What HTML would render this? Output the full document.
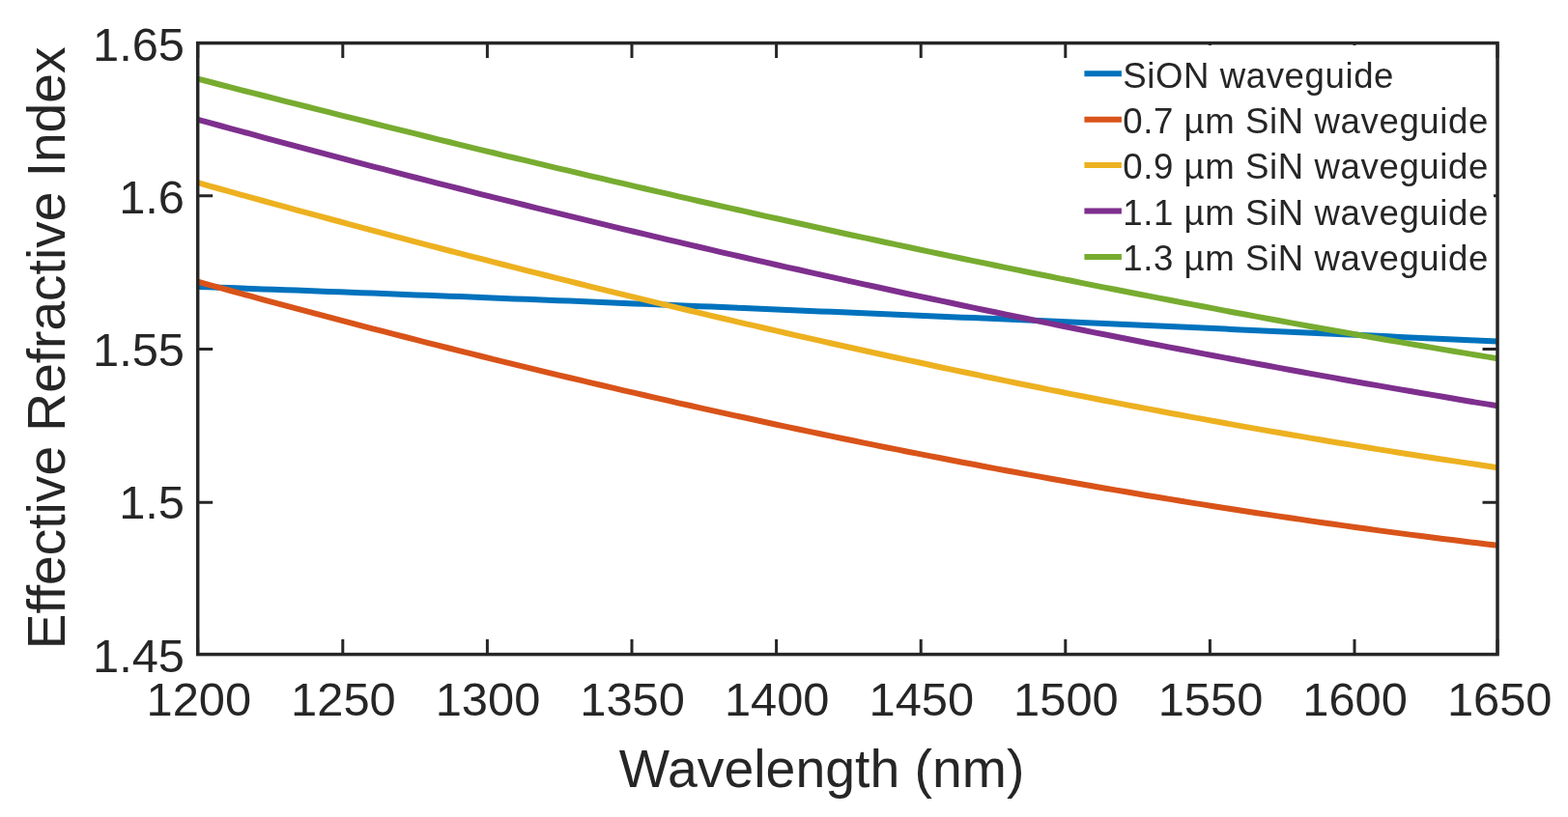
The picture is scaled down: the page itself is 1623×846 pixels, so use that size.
<!DOCTYPE html>
<html><head><meta charset="utf-8"><title>Effective Refractive Index</title>
<style>html,body{margin:0;padding:0;background:#fff;overflow:hidden}svg{display:block}</style>
</head><body>
<svg width="1623" height="846" viewBox="0 0 1623 846">
<rect width="1623" height="846" fill="#fff"/>
<path d="M204.7,296.9 L216.0,297.3 L227.3,297.7 L238.6,298.1 L249.9,298.5 L261.2,298.9 L272.5,299.4 L283.8,299.8 L295.1,300.2 L306.4,300.6 L317.8,301.1 L329.1,301.5 L340.4,301.9 L351.7,302.3 L363.0,302.8 L374.3,303.2 L385.6,303.6 L396.9,304.1 L408.2,304.5 L419.5,304.9 L430.8,305.4 L442.1,305.8 L453.4,306.3 L464.7,306.7 L476.0,307.1 L487.3,307.6 L498.6,308.0 L509.9,308.5 L521.2,308.9 L532.5,309.4 L543.9,309.8 L555.2,310.3 L566.5,310.7 L577.8,311.2 L589.1,311.6 L600.4,312.1 L611.7,312.5 L623.0,313.0 L634.3,313.5 L645.6,313.9 L656.9,314.4 L668.2,314.8 L679.5,315.3 L690.8,315.8 L702.1,316.2 L713.4,316.7 L724.7,317.2 L736.0,317.6 L747.3,318.1 L758.6,318.6 L770.0,319.0 L781.3,319.5 L792.6,320.0 L803.9,320.5 L815.2,320.9 L826.5,321.4 L837.8,321.9 L849.1,322.4 L860.4,322.8 L871.7,323.3 L883.0,323.8 L894.3,324.3 L905.6,324.8 L916.9,325.3 L928.2,325.7 L939.5,326.2 L950.8,326.7 L962.1,327.2 L973.4,327.7 L984.7,328.2 L996.1,328.7 L1007.4,329.1 L1018.7,329.6 L1030.0,330.1 L1041.3,330.6 L1052.6,331.1 L1063.9,331.6 L1075.2,332.1 L1086.5,332.6 L1097.8,333.1 L1109.1,333.6 L1120.4,334.1 L1131.7,334.6 L1143.0,335.1 L1154.3,335.6 L1165.6,336.1 L1176.9,336.6 L1188.2,337.1 L1199.5,337.6 L1210.8,338.1 L1222.2,338.6 L1233.5,339.1 L1244.8,339.6 L1256.1,340.1 L1267.4,340.6 L1278.7,341.2 L1290.0,341.7 L1301.3,342.2 L1312.6,342.7 L1323.9,343.2 L1335.2,343.7 L1346.5,344.2 L1357.8,344.7 L1369.1,345.2 L1380.4,345.8 L1391.7,346.3 L1403.0,346.8 L1414.3,347.3 L1425.6,347.8 L1436.9,348.3 L1448.3,348.9 L1459.6,349.4 L1470.9,349.9 L1482.2,350.4 L1493.5,350.9 L1504.8,351.5 L1516.1,352.0 L1527.4,352.5 L1538.7,353.0 L1550.0,353.6" fill="none" stroke="#0072BD" stroke-width="6.0" stroke-linejoin="round"/>
<path d="M204.7,291.7 L216.0,294.8 L227.3,297.9 L238.6,301.0 L249.9,304.1 L261.2,307.2 L272.5,310.3 L283.8,313.3 L295.1,316.4 L306.4,319.4 L317.8,322.4 L329.1,325.4 L340.4,328.4 L351.7,331.4 L363.0,334.4 L374.3,337.3 L385.6,340.3 L396.9,343.2 L408.2,346.1 L419.5,349.0 L430.8,351.9 L442.1,354.8 L453.4,357.7 L464.7,360.5 L476.0,363.4 L487.3,366.2 L498.6,369.0 L509.9,371.8 L521.2,374.6 L532.5,377.4 L543.9,380.1 L555.2,382.9 L566.5,385.6 L577.8,388.3 L589.1,391.0 L600.4,393.7 L611.7,396.4 L623.0,399.0 L634.3,401.7 L645.6,404.3 L656.9,406.9 L668.2,409.5 L679.5,412.1 L690.8,414.7 L702.1,417.3 L713.4,419.8 L724.7,422.4 L736.0,424.9 L747.3,427.4 L758.6,429.9 L770.0,432.3 L781.3,434.8 L792.6,437.3 L803.9,439.7 L815.2,442.1 L826.5,444.5 L837.8,446.9 L849.1,449.3 L860.4,451.6 L871.7,454.0 L883.0,456.3 L894.3,458.6 L905.6,460.9 L916.9,463.2 L928.2,465.4 L939.5,467.7 L950.8,469.9 L962.1,472.1 L973.4,474.3 L984.7,476.5 L996.1,478.7 L1007.4,480.8 L1018.7,483.0 L1030.0,485.1 L1041.3,487.2 L1052.6,489.3 L1063.9,491.4 L1075.2,493.4 L1086.5,495.5 L1097.8,497.5 L1109.1,499.5 L1120.4,501.5 L1131.7,503.5 L1143.0,505.5 L1154.3,507.4 L1165.6,509.3 L1176.9,511.3 L1188.2,513.2 L1199.5,515.0 L1210.8,516.9 L1222.2,518.7 L1233.5,520.6 L1244.8,522.4 L1256.1,524.2 L1267.4,526.0 L1278.7,527.7 L1290.0,529.5 L1301.3,531.2 L1312.6,532.9 L1323.9,534.6 L1335.2,536.3 L1346.5,537.9 L1357.8,539.6 L1369.1,541.2 L1380.4,542.8 L1391.7,544.4 L1403.0,546.0 L1414.3,547.5 L1425.6,549.1 L1436.9,550.6 L1448.3,552.1 L1459.6,553.6 L1470.9,555.0 L1482.2,556.5 L1493.5,557.9 L1504.8,559.3 L1516.1,560.7 L1527.4,562.1 L1538.7,563.4 L1550.0,564.8" fill="none" stroke="#D95319" stroke-width="6.0" stroke-linejoin="round"/>
<path d="M204.7,189.2 L216.0,192.4 L227.3,195.5 L238.6,198.7 L249.9,201.8 L261.2,204.9 L272.5,208.0 L283.8,211.1 L295.1,214.2 L306.4,217.3 L317.8,220.4 L329.1,223.4 L340.4,226.5 L351.7,229.5 L363.0,232.6 L374.3,235.6 L385.6,238.6 L396.9,241.6 L408.2,244.6 L419.5,247.6 L430.8,250.6 L442.1,253.6 L453.4,256.5 L464.7,259.5 L476.0,262.4 L487.3,265.3 L498.6,268.2 L509.9,271.1 L521.2,274.0 L532.5,276.9 L543.9,279.8 L555.2,282.6 L566.5,285.5 L577.8,288.3 L589.1,291.1 L600.4,294.0 L611.7,296.8 L623.0,299.6 L634.3,302.3 L645.6,305.1 L656.9,307.9 L668.2,310.6 L679.5,313.3 L690.8,316.1 L702.1,318.8 L713.4,321.5 L724.7,324.2 L736.0,326.8 L747.3,329.5 L758.6,332.2 L770.0,334.8 L781.3,337.4 L792.6,340.0 L803.9,342.7 L815.2,345.2 L826.5,347.8 L837.8,350.4 L849.1,352.9 L860.4,355.5 L871.7,358.0 L883.0,360.5 L894.3,363.0 L905.6,365.5 L916.9,368.0 L928.2,370.5 L939.5,372.9 L950.8,375.3 L962.1,377.8 L973.4,380.2 L984.7,382.6 L996.1,385.0 L1007.4,387.3 L1018.7,389.7 L1030.0,392.0 L1041.3,394.4 L1052.6,396.7 L1063.9,399.0 L1075.2,401.3 L1086.5,403.6 L1097.8,405.8 L1109.1,408.1 L1120.4,410.3 L1131.7,412.5 L1143.0,414.7 L1154.3,416.9 L1165.6,419.1 L1176.9,421.3 L1188.2,423.4 L1199.5,425.5 L1210.8,427.7 L1222.2,429.8 L1233.5,431.9 L1244.8,433.9 L1256.1,436.0 L1267.4,438.0 L1278.7,440.1 L1290.0,442.1 L1301.3,444.1 L1312.6,446.1 L1323.9,448.0 L1335.2,450.0 L1346.5,451.9 L1357.8,453.9 L1369.1,455.8 L1380.4,457.7 L1391.7,459.5 L1403.0,461.4 L1414.3,463.2 L1425.6,465.1 L1436.9,466.9 L1448.3,468.7 L1459.6,470.5 L1470.9,472.2 L1482.2,474.0 L1493.5,475.7 L1504.8,477.4 L1516.1,479.1 L1527.4,480.8 L1538.7,482.5 L1550.0,484.2" fill="none" stroke="#EDB120" stroke-width="6.0" stroke-linejoin="round"/>
<path d="M204.7,123.8 L216.0,126.9 L227.3,130.0 L238.6,133.1 L249.9,136.1 L261.2,139.2 L272.5,142.3 L283.8,145.3 L295.1,148.4 L306.4,151.4 L317.8,154.4 L329.1,157.4 L340.4,160.4 L351.7,163.4 L363.0,166.4 L374.3,169.3 L385.6,172.3 L396.9,175.2 L408.2,178.2 L419.5,181.1 L430.8,184.0 L442.1,186.9 L453.4,189.8 L464.7,192.7 L476.0,195.5 L487.3,198.4 L498.6,201.3 L509.9,204.1 L521.2,206.9 L532.5,209.7 L543.9,212.5 L555.2,215.3 L566.5,218.1 L577.8,220.9 L589.1,223.7 L600.4,226.4 L611.7,229.2 L623.0,231.9 L634.3,234.6 L645.6,237.3 L656.9,240.0 L668.2,242.7 L679.5,245.4 L690.8,248.1 L702.1,250.7 L713.4,253.4 L724.7,256.0 L736.0,258.7 L747.3,261.3 L758.6,263.9 L770.0,266.5 L781.3,269.1 L792.6,271.7 L803.9,274.2 L815.2,276.8 L826.5,279.3 L837.8,281.9 L849.1,284.4 L860.4,286.9 L871.7,289.4 L883.0,291.9 L894.3,294.4 L905.6,296.8 L916.9,299.3 L928.2,301.7 L939.5,304.2 L950.8,306.6 L962.1,309.0 L973.4,311.4 L984.7,313.8 L996.1,316.2 L1007.4,318.6 L1018.7,321.0 L1030.0,323.3 L1041.3,325.7 L1052.6,328.0 L1063.9,330.3 L1075.2,332.6 L1086.5,334.9 L1097.8,337.2 L1109.1,339.5 L1120.4,341.8 L1131.7,344.1 L1143.0,346.3 L1154.3,348.5 L1165.6,350.8 L1176.9,353.0 L1188.2,355.2 L1199.5,357.4 L1210.8,359.6 L1222.2,361.8 L1233.5,363.9 L1244.8,366.1 L1256.1,368.2 L1267.4,370.4 L1278.7,372.5 L1290.0,374.6 L1301.3,376.7 L1312.6,378.8 L1323.9,380.9 L1335.2,383.0 L1346.5,385.0 L1357.8,387.1 L1369.1,389.1 L1380.4,391.1 L1391.7,393.2 L1403.0,395.2 L1414.3,397.2 L1425.6,399.1 L1436.9,401.1 L1448.3,403.1 L1459.6,405.0 L1470.9,407.0 L1482.2,408.9 L1493.5,410.8 L1504.8,412.8 L1516.1,414.7 L1527.4,416.6 L1538.7,418.4 L1550.0,420.3" fill="none" stroke="#7E2F8E" stroke-width="6.0" stroke-linejoin="round"/>
<path d="M204.7,81.6 L216.0,84.5 L227.3,87.5 L238.6,90.4 L249.9,93.3 L261.2,96.2 L272.5,99.0 L283.8,101.9 L295.1,104.8 L306.4,107.7 L317.8,110.5 L329.1,113.4 L340.4,116.2 L351.7,119.1 L363.0,121.9 L374.3,124.7 L385.6,127.5 L396.9,130.3 L408.2,133.1 L419.5,135.9 L430.8,138.7 L442.1,141.5 L453.4,144.3 L464.7,147.0 L476.0,149.8 L487.3,152.6 L498.6,155.3 L509.9,158.0 L521.2,160.8 L532.5,163.5 L543.9,166.2 L555.2,168.9 L566.5,171.6 L577.8,174.3 L589.1,176.9 L600.4,179.6 L611.7,182.3 L623.0,184.9 L634.3,187.6 L645.6,190.2 L656.9,192.8 L668.2,195.5 L679.5,198.1 L690.8,200.7 L702.1,203.3 L713.4,205.9 L724.7,208.5 L736.0,211.0 L747.3,213.6 L758.6,216.1 L770.0,218.7 L781.3,221.2 L792.6,223.8 L803.9,226.3 L815.2,228.8 L826.5,231.3 L837.8,233.8 L849.1,236.3 L860.4,238.7 L871.7,241.2 L883.0,243.7 L894.3,246.1 L905.6,248.5 L916.9,251.0 L928.2,253.4 L939.5,255.8 L950.8,258.2 L962.1,260.6 L973.4,263.0 L984.7,265.4 L996.1,267.7 L1007.4,270.1 L1018.7,272.4 L1030.0,274.8 L1041.3,277.1 L1052.6,279.4 L1063.9,281.7 L1075.2,284.0 L1086.5,286.3 L1097.8,288.6 L1109.1,290.8 L1120.4,293.1 L1131.7,295.4 L1143.0,297.6 L1154.3,299.8 L1165.6,302.0 L1176.9,304.2 L1188.2,306.4 L1199.5,308.6 L1210.8,310.8 L1222.2,313.0 L1233.5,315.1 L1244.8,317.3 L1256.1,319.4 L1267.4,321.6 L1278.7,323.7 L1290.0,325.8 L1301.3,327.9 L1312.6,330.0 L1323.9,332.0 L1335.2,334.1 L1346.5,336.1 L1357.8,338.2 L1369.1,340.2 L1380.4,342.2 L1391.7,344.3 L1403.0,346.3 L1414.3,348.2 L1425.6,350.2 L1436.9,352.2 L1448.3,354.1 L1459.6,356.1 L1470.9,358.0 L1482.2,359.9 L1493.5,361.9 L1504.8,363.8 L1516.1,365.6 L1527.4,367.5 L1538.7,369.4 L1550.0,371.3" fill="none" stroke="#77AC30" stroke-width="6.0" stroke-linejoin="round"/>
<rect x="204.7" y="44.6" width="1345.3" height="633.0" fill="none" stroke="#262626" stroke-width="3.5"/>
<path d="M204.7,677.6 V662.1 M204.7,44.6 V60.1 M354.8,677.6 V662.1 M354.8,44.6 V60.1 M504.4,677.6 V662.1 M504.4,44.6 V60.1 M654.0,677.6 V662.1 M654.0,44.6 V60.1 M803.6,677.6 V662.1 M803.6,44.6 V60.1 M953.2,677.6 V662.1 M953.2,44.6 V60.1 M1102.8,677.6 V662.1 M1102.8,44.6 V60.1 M1252.4,677.6 V662.1 M1252.4,44.6 V60.1 M1402.0,677.6 V662.1 M1402.0,44.6 V60.1 M1550.0,677.6 V662.1 M1550.0,44.6 V60.1 M204.7,44.6 H220.2 M1550.0,44.6 H1534.5 M204.7,202.7 H220.2 M1550.0,202.7 H1534.5 M204.7,361.4 H220.2 M1550.0,361.4 H1534.5 M204.7,520.2 H220.2 M1550.0,520.2 H1534.5 M204.7,677.6 H220.2 M1550.0,677.6 H1534.5" stroke="#262626" stroke-width="3" fill="none"/>
<g font-family="Liberation Sans, Arial, sans-serif" font-size="48.8" fill="#262626">
<text x="205.8" y="741" text-anchor="middle">1200</text>
<text x="355.4" y="741" text-anchor="middle">1250</text>
<text x="505.0" y="741" text-anchor="middle">1300</text>
<text x="654.6" y="741" text-anchor="middle">1350</text>
<text x="804.2" y="741" text-anchor="middle">1400</text>
<text x="953.8" y="741" text-anchor="middle">1450</text>
<text x="1103.4" y="741" text-anchor="middle">1500</text>
<text x="1253.0" y="741" text-anchor="middle">1550</text>
<text x="1402.6" y="741" text-anchor="middle">1600</text>
<text x="1552.2" y="741" text-anchor="middle">1650</text>
<text x="191" y="62.6" text-anchor="end">1.65</text>
<text x="191" y="220.8" text-anchor="end">1.6</text>
<text x="191" y="379.1" text-anchor="end">1.55</text>
<text x="191" y="537.4" text-anchor="end">1.5</text>
<text x="191" y="695.6" text-anchor="end">1.45</text>
</g>
<g font-family="Liberation Sans, Arial, sans-serif" font-size="55.4" fill="#262626">
<text x="850.6" y="814.6" text-anchor="middle">Wavelength (nm)</text>
<text transform="translate(67.3,360.4) rotate(-90)" text-anchor="middle" font-size="55.1">Effective Refractive Index</text>
</g>
<rect x="1108" y="47" width="438" height="237" fill="#fff"/>
<g font-family="Liberation Sans, Arial, sans-serif" font-size="36.6" fill="#262626">
<line x1="1122.4" y1="76.3" x2="1160.9" y2="76.3" stroke="#0072BD" stroke-width="6.0"/>
<text x="1162.2" y="90.5" letter-spacing="0.6">SiON waveguide</text>
<line x1="1122.4" y1="123.7" x2="1160.9" y2="123.7" stroke="#D95319" stroke-width="6.0"/>
<text x="1162.2" y="137.9" letter-spacing="0.6">0.7 µm SiN waveguide</text>
<line x1="1122.4" y1="171.1" x2="1160.9" y2="171.1" stroke="#EDB120" stroke-width="6.0"/>
<text x="1162.2" y="185.3" letter-spacing="0.6">0.9 µm SiN waveguide</text>
<line x1="1122.4" y1="218.5" x2="1160.9" y2="218.5" stroke="#7E2F8E" stroke-width="6.0"/>
<text x="1162.2" y="232.7" letter-spacing="0.6">1.1 µm SiN waveguide</text>
<line x1="1122.4" y1="265.9" x2="1160.9" y2="265.9" stroke="#77AC30" stroke-width="6.0"/>
<text x="1162.2" y="280.1" letter-spacing="0.6">1.3 µm SiN waveguide</text>
</g>
</svg>
</body></html>
